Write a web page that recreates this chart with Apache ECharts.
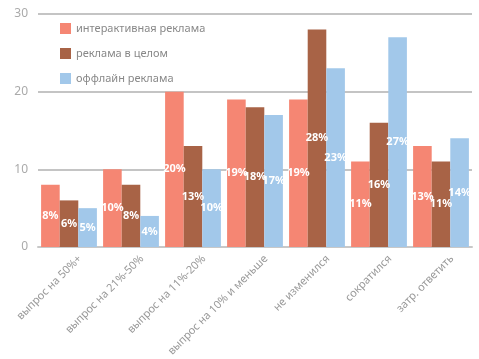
<!DOCTYPE html>
<html><head><meta charset="utf-8">
<script src="https://cdn.jsdelivr.net/npm/echarts@6/dist/echarts.min.js"></script>
<style>html,body{margin:0;padding:0;background:#fff}#c{width:479px;height:359px}</style>
</head><body><div id="c"></div>
<script>
const categories = ['выпрос на 50%+','выпрос на 21%-50%','выпрос на 11%-20%','выпрос на 10% и меньше','не изменился','сократился','затр. ответить'];
const seriesNames = ['интерактивная реклама','реклама в целом','оффлайн реклама'];
const interactive = [8,10,20,19,19,11,13];
const overall = [6,8,13,18,28,16,11];
const offline = [5,4,10,17,23,27,14];
const yTicks = [0,10,20,30];
const colors = ['#F58673','#A86346','#A2C8EA'];
const font = 'Noto Sans';
const chart = echarts.init(document.getElementById('c'));
const mk = (name, data, i) => ({
  name, type:'bar', data, barGap:'0%', barCategoryGap:'10%',
  itemStyle:{color:colors[i]},
  label:{show:true, position:'inside', formatter:'{c}%', color:'#fff', fontWeight:'bold', fontSize:11, fontFamily:font}
});
chart.setOption({
  animation:false,
  grid:[
    {left:38, right:7, top:14, bottom:112, containLabel:false, outerBoundsMode:'none'},
    {left:49, right:-4, top:14, bottom:112, containLabel:false, outerBoundsMode:'none'}
  ],
  legend:{orient:'vertical', left:55, top:18, itemWidth:11, itemHeight:11, itemGap:14,
    icon:'rect', textStyle:{color:'#888', fontSize:11, fontFamily:font}, data:seriesNames},
  xAxis:[
    {type:'category', gridIndex:0, data:categories,
      axisLine:{lineStyle:{color:'#c8c8c8', width:2}}, axisTick:{show:false}, axisLabel:{show:false}},
    {type:'category', gridIndex:1, data:categories,
      axisLine:{show:false}, axisTick:{show:false},
      axisLabel:{rotate:45, interval:0, color:'#999', fontSize:11, fontFamily:font, margin:10}}
  ],
  yAxis:[
    {type:'value', gridIndex:0, min:yTicks[0], max:yTicks[yTicks.length-1], interval:10,
      axisLine:{show:false}, axisTick:{show:false},
      axisLabel:{color:'#aaa', fontSize:12, fontFamily:font, margin:10},
      splitLine:{lineStyle:{color:'#c4c4c4', width:2}}},
    {type:'value', gridIndex:1, show:false, min:0, max:30}
  ],
  series:[mk(seriesNames[0],interactive,0), mk(seriesNames[1],overall,1), mk(seriesNames[2],offline,2)]
});
</script></body></html>
